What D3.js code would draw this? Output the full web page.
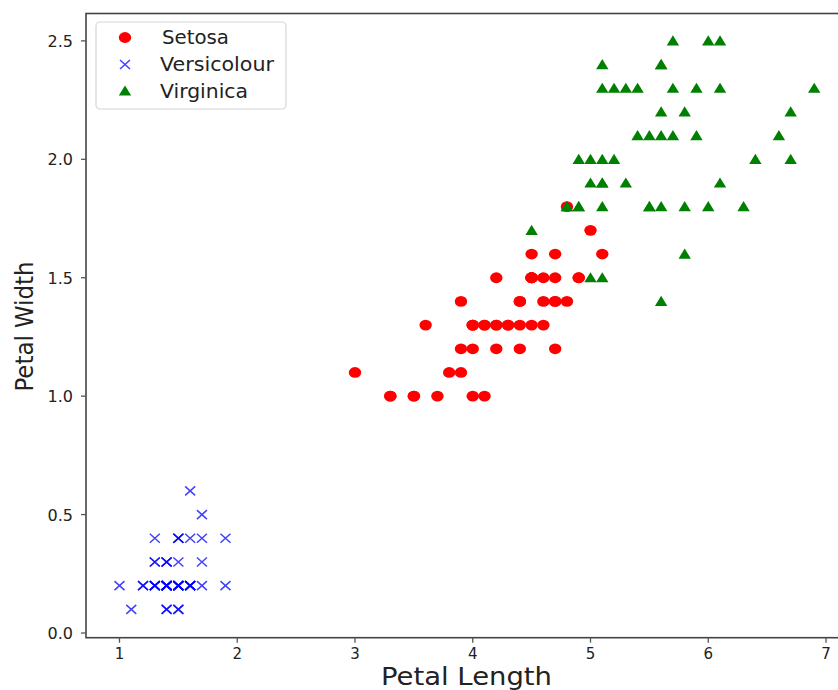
<!DOCTYPE html>
<html>
<head>
<meta charset="utf-8">
<script src="https://cdn.jsdelivr.net/npm/d3@7"></script>
<style>
  body { margin: 0; background: #fff; }
  text { font-family: "DejaVu Sans", sans-serif; fill: #222; }
</style>
</head>
<body>
<div class="chart"></div>
<script>
// legend labels as they appear in the picture
var seriesNames = ["Setosa", "Versicolour", "Virginica"];

var setosaLength = [4.7,4.5,4.9,4.0,4.6,4.5,4.7,3.3,4.6,3.9,3.5,4.2,4.0,4.7,3.6,4.4,4.5,4.1,4.5,3.9,
  4.8,4.0,4.9,4.7,4.3,4.4,4.8,5.0,4.5,3.5,3.8,3.7,3.9,5.1,4.5,4.5,4.7,4.4,4.1,4.0,
  4.4,4.6,4.0,3.3,4.2,4.2,4.2,4.3,3.0,4.1];
var setosaWidth = [1.4,1.5,1.5,1.3,1.5,1.3,1.6,1.0,1.3,1.4,1.0,1.5,1.0,1.4,1.3,1.4,1.5,1.0,1.5,1.1,
  1.8,1.3,1.5,1.2,1.3,1.4,1.4,1.7,1.5,1.0,1.1,1.0,1.2,1.6,1.5,1.6,1.5,1.3,1.3,1.3,
  1.2,1.4,1.2,1.0,1.3,1.2,1.3,1.3,1.1,1.3];

var versicolourLength = [1.4,1.4,1.3,1.5,1.4,1.7,1.4,1.5,1.4,1.5,1.5,1.6,1.4,1.1,1.2,1.5,1.3,1.4,1.7,1.5,
  1.7,1.5,1.0,1.7,1.9,1.6,1.6,1.5,1.4,1.6,1.6,1.5,1.5,1.4,1.5,1.2,1.3,1.4,1.3,1.5,
  1.3,1.3,1.3,1.6,1.9,1.4,1.6,1.4,1.5,1.4];
var versicolourWidth = [0.2,0.2,0.2,0.2,0.2,0.4,0.3,0.2,0.2,0.1,0.2,0.2,0.1,0.1,0.2,0.4,0.4,0.3,0.3,0.3,
  0.2,0.4,0.2,0.5,0.2,0.2,0.4,0.2,0.2,0.2,0.2,0.4,0.1,0.2,0.2,0.2,0.2,0.1,0.2,0.2,
  0.3,0.3,0.2,0.6,0.4,0.3,0.2,0.2,0.2,0.2];

var virginicaLength = [6.0,5.1,5.9,5.6,5.8,6.6,4.5,6.3,5.8,6.1,5.1,5.3,5.5,5.0,5.1,5.3,5.5,6.7,6.9,5.0,
  5.7,4.9,6.7,4.9,5.7,6.0,4.8,4.9,5.6,5.8,6.1,6.4,5.6,5.1,5.6,6.1,5.6,5.5,4.8,5.4,
  5.6,5.1,5.1,5.9,5.7,5.2,5.0,5.2,5.4,5.1];
var virginicaWidth = [2.5,1.9,2.1,1.8,2.2,2.1,1.7,1.8,1.8,2.5,2.0,1.9,2.1,2.0,2.4,2.3,1.8,2.2,2.3,1.5,
  2.3,2.0,2.0,1.8,2.1,1.8,1.8,1.8,2.1,1.6,1.9,2.0,2.2,1.5,1.4,2.3,2.4,1.8,1.8,2.1,
  2.4,2.3,1.9,2.3,2.5,2.3,1.9,2.0,2.3,1.8];

var xTicks = [1, 2, 3, 4, 5, 6, 7];
var yTicks = [0.0, 0.5, 1.0, 1.5, 2.0, 2.5];

var width = 838, height = 690,
    plotLeft = 86, plotTop = 13.5, plotBottom = 637.7;

var svg = d3.select(".chart")
  .append("svg")
    .attr("width", width)
    .attr("height", height);

svg.append("rect")
  .attr("width", width).attr("height", height)
  .style("fill", "#fff");

var x = d3.scaleLinear().domain([0.7155, 7.195]).range([plotLeft, plotLeft + (7.195 - 0.7155) * 117.75]);
var y = d3.scaleLinear().domain([-0.0198, 2.6156]).range([plotBottom, plotTop]);
var plotRight = x(7.195);

// markers
var tri = "M0,-5.6L6.2,4.6L-6.2,4.6Z";
var cross = "M-5,-4.5L5,4.5M-5,4.5L5,-4.5";

var g = svg.append("g");

g.selectAll(".setosa")
  .data(d3.range(setosaLength.length))
  .enter().append("ellipse")
    .attr("cx", function(i) { return x(setosaLength[i]); })
    .attr("cy", function(i) { return y(setosaWidth[i]); })
    .attr("rx", 6.2)
    .attr("ry", 5.4)
    .style("fill", "red");

g.selectAll(".versi")
  .data(d3.range(versicolourLength.length))
  .enter().append("path")
    .attr("transform", function(i) { return "translate(" + x(versicolourLength[i]) + "," + y(versicolourWidth[i]) + ")"; })
    .attr("d", cross)
    .style("stroke", "blue")
    .style("stroke-width", 1.5)
    .style("opacity", 0.75)
    .style("fill", "none");

g.selectAll(".virg")
  .data(d3.range(virginicaLength.length))
  .enter().append("path")
    .attr("transform", function(i) { return "translate(" + x(virginicaLength[i]) + "," + y(virginicaWidth[i]) + ")"; })
    .attr("d", tri)
    .style("fill", "green");

// frame
svg.append("rect")
  .attr("x", plotLeft).attr("y", plotTop)
  .attr("width", plotRight - plotLeft).attr("height", plotBottom - plotTop)
  .style("fill", "none")
  .style("stroke", "#444")
  .style("stroke-width", 1.6);

// x ticks
var xt = svg.append("g");
xTicks.forEach(function(t) {
  xt.append("line")
    .attr("x1", x(t)).attr("x2", x(t))
    .attr("y1", plotBottom).attr("y2", plotBottom + 5)
    .style("stroke", "#555").style("stroke-width", 1.3);
  xt.append("text")
    .attr("x", x(t)).attr("y", plotBottom + 21)
    .attr("text-anchor", "middle")
    .style("font-size", "15px")
    .text(d3.format("d")(t));
});

// y ticks
var yt = svg.append("g");
yTicks.forEach(function(t) {
  yt.append("line")
    .attr("x1", plotLeft - 5).attr("x2", plotLeft)
    .attr("y1", y(t)).attr("y2", y(t))
    .style("stroke", "#555").style("stroke-width", 1.3);
  yt.append("text")
    .attr("x", plotLeft - 13).attr("y", y(t) + 6)
    .attr("text-anchor", "end")
    .style("font-size", "16px")
    .text(d3.format(".1f")(t));
});

// axis labels
svg.append("text")
  .attr("x", (plotLeft + plotRight) / 2 - 1).attr("y", 685)
  .attr("text-anchor", "middle")
  .attr("textLength", 171)
  .attr("lengthAdjust", "spacingAndGlyphs")
  .style("font-size", "25px")
  .text("Petal Length");

svg.append("text")
  .attr("transform", "translate(33," + ((plotTop + plotBottom) / 2 + 1) + ") rotate(-90)")
  .attr("text-anchor", "middle")
  .attr("textLength", 130)
  .attr("lengthAdjust", "spacingAndGlyphs")
  .style("font-size", "24px")
  .text("Petal Width");

// legend
var lg = svg.append("g");
lg.append("rect")
  .attr("x", 96).attr("y", 22)
  .attr("width", 190).attr("height", 87)
  .attr("rx", 4)
  .style("fill", "#fff").style("fill-opacity", 0.8)
  .style("stroke", "#d5d5d5").style("stroke-width", 1.2);

var rows = [37.5, 64.5, 91];
var legendLen = [67, 114, 88];
lg.append("ellipse").attr("cx", 125).attr("cy", rows[0]).attr("rx", 6.2).attr("ry", 5.4).style("fill", "red");
lg.append("path").attr("transform", "translate(125," + rows[1] + ")")
  .attr("d", cross)
  .style("stroke", "blue").style("stroke-width", 1.5).style("opacity", 0.75);
lg.append("path").attr("transform", "translate(125," + rows[2] + ")")
  .attr("d", tri).style("fill", "green");

seriesNames.forEach(function(name, i) {
  lg.append("text")
    .attr("x", i === 0 ? 162 : 160).attr("y", rows[i] + 6.5)
    .attr("textLength", legendLen[i])
    .attr("lengthAdjust", "spacingAndGlyphs")
    .style("font-size", "19px")
    .text(name);
});
</script>
</body>
</html>
